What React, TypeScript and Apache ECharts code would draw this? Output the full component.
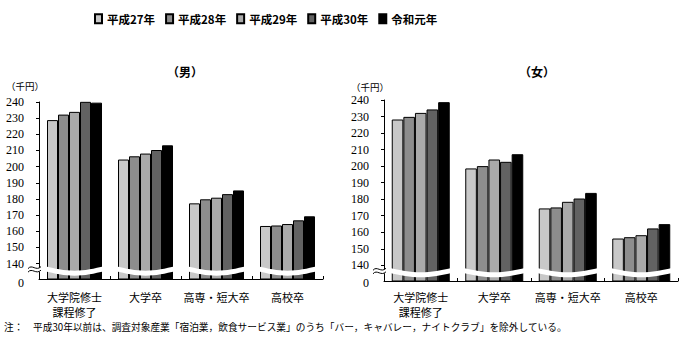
import React, { useEffect, useRef } from "react";
import * as echarts from "echarts";

const categories = ["大学院修士\n課程修了", "大学卒", "高専・短大卒", "高校卒"];
const seriesNames = ["平成27年", "平成28年", "平成29年", "平成30年", "令和元年"];
const yTicks = [140, 150, 160, 170, 180, 190, 200, 210, 220, 230, 240];

// 男 (千円)
const maleH27 = [228.8, 204.4, 177.3, 163.3];
const maleH28 = [232.2, 206.4, 179.8, 163.6];
const maleH29 = [233.9, 208.1, 180.8, 164.5];
const maleH30 = [240.1, 210.3, 183.0, 166.8];
const maleR1 = [239.6, 213.2, 185.3, 169.3];

// 女 (千円)
const femaleH27 = [228.2, 198.6, 174.4, 156.2];
const femaleH28 = [229.8, 200.0, 175.0, 157.0];
const femaleH29 = [232.2, 204.0, 178.4, 158.2];
const femaleH30 = [234.3, 202.6, 180.4, 162.3];
const femaleR1 = [238.7, 207.2, 183.8, 164.9];

const maleData = [maleH27, maleH28, maleH29, maleH30, maleR1];
const femaleData = [femaleH27, femaleH28, femaleH29, femaleH30, femaleR1];

const colors = ["#c8c8c8", "#8d8d8d", "#aaaaaa", "#626262", "#000000"];
const Y_MIN = 130.5;
const Y_MAX = 240;

const JP = "'Noto Sans CJK JP', sans-serif";
const SERIF = "'Liberation Serif', 'DejaVu Serif', serif";

function makeBreak(halfWidth: number) {
  return function (params: any, api: any) {
    const idx = api.value(0);
    const c = api.coord([idx, 140]);
    const x0 = c[0] - halfWidth;
    const x1 = c[0] + halfWidth;
    const top: number[][] = [];
    const bot: number[][] = [];
    const n = 16;
    for (let i = 0; i <= n; i++) {
      const t = i / n;
      const x = x0 + (x1 - x0) * t;
      const y = c[1] + 2.5 + 4.5 * Math.sin(Math.PI * t);
      top.push([x, y]);
      bot.push([x, y + 5]);
    }
    const pts = top.concat(bot.reverse());
    const children: any[] = [
      { type: "polygon", shape: { points: pts }, style: { fill: "#fff" } },
    ];
    if (idx === 0) {
      const ax = params.coordSys.x;
      const y = c[1] + 5;
      children.push({
        type: "polygon",
        shape: { points: [[ax - 2, y - 1], [ax + 2, y - 1], [ax + 2, y + 3], [ax - 2, y + 3]] },
        style: { fill: "#fff" },
      });
      for (const dy of [-1, 2.5]) {
        children.push({
          type: "bezierCurve",
          shape: {
            x1: ax - 11, y1: y + dy + 1,
            cpx1: ax - 7, cpy1: y + dy - 4,
            cpx2: ax - 3, cpy2: y + dy + 4,
            x2: ax + 2, y2: y + dy - 1,
          },
          style: { stroke: "#000", lineWidth: 1, fill: "none" },
        });
      }
    }
    return { type: "group", children };
  };
}

export default function App() {
  const ref = useRef<HTMLDivElement>(null);
  useEffect(() => {
    if (!ref.current) return;
    const chart = echarts.init(ref.current, undefined, { renderer: "svg" });

    const yAxisBase = (zeroPad: number, gridIndex: number) => ({
      type: "value",
      gridIndex,
      min: Y_MIN,
      max: Y_MAX,
      axisLine: { show: true, lineStyle: { color: "#000", width: 1 } },
      axisTick: { show: true, length: 3, lineStyle: { color: "#000" }, customValues: yTicks },
      splitLine: { show: false },
      axisLabel: {
        customValues: [Y_MIN, ...yTicks],
        margin: 15,
        color: "#000",
        fontFamily: SERIF,
        fontSize: 12,
        formatter: (v: number) => (v < 135 ? "{z|0}" : String(v)),
        rich: {
          z: { padding: [zeroPad, 0, 0, 0], fontFamily: SERIF, fontSize: 12, color: "#000" },
        },
      },
    });

    const xAxisBase = (gridIndex: number, margin: number) => ({
      type: "category",
      gridIndex,
      data: categories,
      axisLine: { show: true, lineStyle: { color: "#000", width: 1 } },
      axisTick: { show: true, inside: true, length: 3, lineStyle: { color: "#000" } },
      axisLabel: {
        color: "#000",
        fontFamily: JP,
        fontSize: 11,
        lineHeight: 15,
        margin,
        interval: 0,
      },
    });

    const barSeries = (data: number[][], axisIndex: number, barWidth: number) =>
      data.map((vals, i) => ({
        type: "bar",
        name: seriesNames[i],
        xAxisIndex: axisIndex,
        yAxisIndex: axisIndex,
        data: vals,
        barWidth,
        barGap: "0%",
        itemStyle: { color: colors[i], borderColor: "#000", borderWidth: 1 },
      }));

    chart.setOption({
      animation: false,
      backgroundColor: "#fff",
      textStyle: { fontFamily: JP },
      legend: {
        data: seriesNames,
        left: 89,
        top: 8,
        icon: "rect",
        itemWidth: 7,
        itemHeight: 9,
        itemGap: 10,
        textStyle: { fontFamily: JP, fontSize: 11.5, fontWeight: "bold", color: "#000" },
      },
      title: [
        {
          text: "（男）",
          left: 180,
          top: 60,
          textAlign: "center",
          textStyle: { fontFamily: JP, fontSize: 12, fontWeight: "bold", color: "#000" },
        },
        {
          text: "（女）",
          left: 532,
          top: 60,
          textAlign: "center",
          textStyle: { fontFamily: JP, fontSize: 12, fontWeight: "bold", color: "#000" },
        },
      ],
      grid: [
        { left: 39, top: 102, width: 284, height: 177 },
        { left: 384, top: 100, width: 294, height: 181 },
      ],
      xAxis: [xAxisBase(0, 10), xAxisBase(1, 8)],
      yAxis: [yAxisBase(7, 0), yAxisBase(3, 1)],
      graphic: [
        {
          type: "text",
          left: 6,
          top: 81,
          style: { text: "（千円）", fontFamily: JP, fontSize: 9.5, fill: "#000" },
        },
        {
          type: "text",
          left: 351,
          top: 82,
          style: { text: "（千円）", fontFamily: JP, fontSize: 9.5, fill: "#000" },
        },
        {
          type: "text",
          left: 4,
          top: 322,
          style: {
            text: "注：　平成30年以前は、調査対象産業「宿泊業，飲食サービス業」のうち「バー，キャバレー，ナイトクラブ」を除外している。",
            fontFamily: JP,
            fontSize: 9.7,
            fill: "#000",
          },
        },
      ],
      series: [
        ...barSeries(maleData, 0, 11),
        ...barSeries(femaleData, 1, 11.6),
        {
          type: "custom",
          name: "break-m",
          xAxisIndex: 0,
          yAxisIndex: 0,
          z: 5,
          clip: false,
          silent: true,
          data: [[0], [1], [2], [3]],
          renderItem: makeBreak(30),
        },
        {
          type: "custom",
          name: "break-f",
          xAxisIndex: 1,
          yAxisIndex: 1,
          z: 5,
          clip: false,
          silent: true,
          data: [[0], [1], [2], [3]],
          renderItem: makeBreak(31.5),
        },
      ],
    });
    return () => chart.dispose();
  }, []);
  return (
    <div
      ref={ref}
      style={{ position: "fixed", left: 0, top: 0, width: 695, height: 341, background: "#fff" }}
    />
  );
}
